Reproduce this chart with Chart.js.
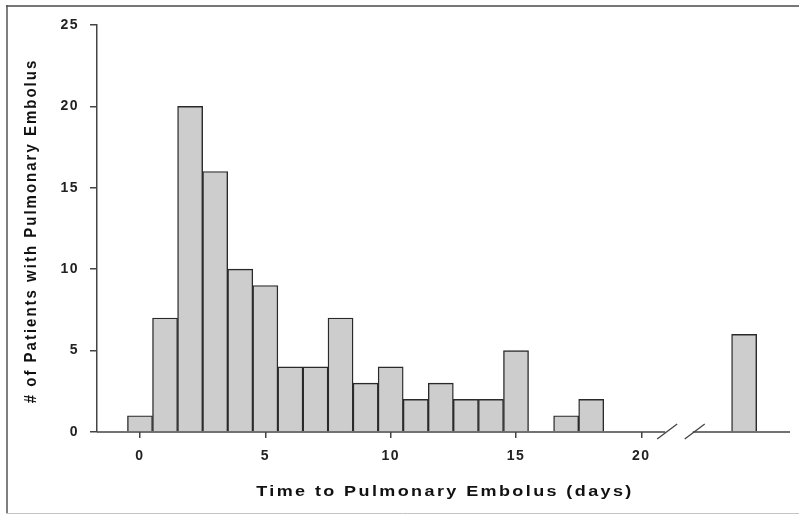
<!DOCTYPE html>
<html>
<head>
<meta charset="utf-8">
<script src="https://cdn.jsdelivr.net/npm/chart.js@4.4.1/dist/chart.umd.min.js"></script>
<style>
  html, body { margin: 0; padding: 0; background: #fff; }
  #wrap { width: 799px; height: 515px; position: relative; }
</style>
</head>
<body>
<div id="wrap"><canvas id="histChart"></canvas></div>
<script>
  // days after surgery (last bar sits past the axis break)
  const days = [0, 1, 2, 3, 4, 5, 6, 7, 8, 9, 10, 11, 12, 13, 14, 15, 16, 17, 18, 24.1];
  const patients = [1, 7, 20, 16, 10, 9, 4, 4, 7, 3, 4, 2, 3, 2, 2, 5, 0, 1, 2, 6];
  const xTicks = [0, 5, 10, 15, 20];
  const yTicks = [0, 5, 10, 15, 20, 25];
  const xTitle = 'Time to Pulmonary Embolus (days)';
  const yTitle = '# of Patients with Pulmonary Embolus';
  const breakFrom = 20.95;
  const breakTo = 22.05;

  const axisColor = '#444';
  const tickFont = { family: 'Liberation Sans, Arial, sans-serif', size: 14, weight: 'bold' };

  const framePlugin = {
    id: 'frame',
    beforeDraw(chart) {
      const ctx = chart.ctx;
      ctx.save();
      ctx.fillStyle = '#fff';
      ctx.fillRect(0, 0, chart.width, chart.height);
      ctx.strokeStyle = '#777';
      ctx.lineWidth = 2;
      ctx.beginPath();
      ctx.moveTo(6, 6); ctx.lineTo(799, 6);
      ctx.stroke();
      ctx.strokeStyle = '#555';
      ctx.lineWidth = 1.5;
      ctx.beginPath();
      ctx.moveTo(7, 5); ctx.lineTo(7, 514);
      ctx.stroke();
      ctx.strokeStyle = '#c4c4c4';
      ctx.lineWidth = 1;
      ctx.beginPath();
      ctx.moveTo(6, 513.5); ctx.lineTo(799, 513.5);
      ctx.stroke();
      ctx.restore();
      ctx.letterSpacing = '1.5px';
    },
    afterDraw(chart) {
      const ctx = chart.ctx;
      ctx.letterSpacing = '0px';
      const xs = chart.scales.x;
      const y0 = chart.scales.y.getPixelForValue(0);
      const b1 = xs.getPixelForValue(breakFrom);
      const b2 = xs.getPixelForValue(breakTo);

      ctx.save();
      // x axis line with break
      ctx.strokeStyle = axisColor;
      ctx.lineWidth = 1.5;
      ctx.beginPath();
      ctx.moveTo(xs.left, y0); ctx.lineTo(b1, y0);
      ctx.moveTo(b2, y0); ctx.lineTo(xs.right, y0);
      ctx.stroke();
      ctx.lineWidth = 1.3;
      ctx.beginPath();
      [b1, b2].forEach(bx => {
        ctx.moveTo(bx - 8, y0 + 7);
        ctx.lineTo(bx + 12, y0 - 8);
      });
      ctx.stroke();

      // axis titles, stretched a little like the original figure
      ctx.fillStyle = '#111';
      ctx.font = 'bold 15px Liberation Sans, Arial, sans-serif';
      ctx.textAlign = 'center';
      ctx.textBaseline = 'middle';
      ctx.letterSpacing = '2px';
      ctx.save();
      ctx.translate(445, 492);
      ctx.scale(1.2, 1);
      ctx.fillText(xTitle, 0, 0);
      ctx.restore();

      ctx.save();
      ctx.translate(31, 231);
      ctx.rotate(-Math.PI / 2);
      ctx.scale(1, 1.15);
      ctx.fillText(yTitle, 0, 0);
      ctx.restore();
      ctx.restore();
    }
  };

  const histChart = new Chart(document.getElementById('histChart'), {
    type: 'bar',
    data: {
      datasets: [{
        label: 'Patients',
        data: days.map((d, i) => ({ x: d, y: patients[i] })),
        backgroundColor: '#cdcdcd',
        borderColor: '#2a2a2a',
        borderWidth: 1.4,
        barPercentage: 1,
        categoryPercentage: 1
      }]
    },
    options: {
      responsive: true,
      maintainAspectRatio: false,
      animation: false,
      layout: { padding: { top: 25, right: 9, left: 0, bottom: 0 } },
      plugins: {
        legend: { display: false },
        tooltip: { enabled: false }
      },
      scales: {
        x: {
          type: 'linear',
          offset: false,
          min: -1.715,
          max: 25.93,
          afterBuildTicks(scale) {
            scale.ticks = xTicks.map(v => ({ value: v }));
          },
          afterFit(scale) { scale.height = 83; },
          grid: {
            drawOnChartArea: false,
            drawTicks: true,
            tickLength: 6,
            color: axisColor,
            lineWidth: 1.5,
            offset: false
          },
          border: { display: false },
          ticks: {
            font: tickFont,
            color: '#222',
            padding: 10,
            maxRotation: 0,
            autoSkip: false
          }
        },
        y: {
          min: 0,
          max: 25,
          afterBuildTicks(scale) {
            scale.ticks = yTicks.map(v => ({ value: v }));
          },
          afterFit(scale) { scale.width = 97; },
          grid: {
            drawOnChartArea: false,
            drawTicks: true,
            tickLength: 7,
            color: axisColor,
            lineWidth: 1.5
          },
          border: { display: true, color: axisColor, width: 1.5 },
          ticks: {
            font: tickFont,
            color: '#222',
            padding: 11
          }
        }
      }
    },
    plugins: [framePlugin]
  });
</script>
</body>
</html>
